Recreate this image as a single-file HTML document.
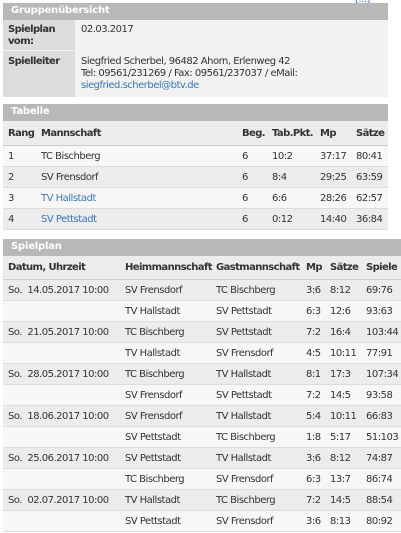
<!DOCTYPE html>
<html><head><meta charset="utf-8"><style>
body{margin:0;width:401px;height:533px;background:#fff;font-family:"DejaVu Sans","Liberation Sans",sans-serif;font-size:10px;color:#333;position:relative;overflow:hidden;letter-spacing:-0.5px}
.hd{position:absolute;background:#b8b8b8;color:#fff;font-weight:bold;height:17px;line-height:16px;padding-left:8px;box-sizing:border-box;letter-spacing:-0.2px}
.row{position:absolute;left:3px;height:21px;border-bottom:1px solid #dcdcdc;box-sizing:border-box}
.row span{position:absolute;top:5px;white-space:nowrap}
.b{font-weight:bold;letter-spacing:-0.6px}
a{color:#3a78b5;text-decoration:none}
.g{background:#ececec}.w{background:#f7f7f7}
</style></head><body>
<div style="position:absolute;left:355px;top:-6px;color:#3a78b5">[...]</div>

<div class="hd" style="left:3px;top:3px;width:385px">Gruppenübersicht</div>
<div style="position:absolute;left:3px;top:20px;width:385px;height:31px;border-bottom:1px solid #ccc;background:#f2f2f2">
 <div style="position:absolute;left:0;top:0;width:72px;height:30px;background:#dcdcdc"></div>
 <span class="b" style="position:absolute;left:5px;top:4px;line-height:12px">Spielplan<br>vom:</span>
 <span style="position:absolute;left:78px;top:4px">02.03.2017</span>
</div>
<div style="position:absolute;left:3px;top:51px;width:385px;height:46px;background:#f2f2f2">
 <div style="position:absolute;left:0;top:0;width:72px;height:46px;background:#dcdcdc"></div>
 <span class="b" style="position:absolute;left:5px;top:5px">Spielleiter</span>
 <span style="position:absolute;left:78px;top:5px;line-height:12px;white-space:nowrap">Siegfried Scherbel, 96482 Ahorn, Erlenweg 42<br>Tel: 09561/231269 / Fax: 09561/237037 / eMail:<br><a>siegfried.scherbel@btv.de</a></span>
</div>

<div class="hd" style="left:3px;top:104px;width:385px">Tabelle</div>
<div class="row" style="top:121px;width:385px;height:25px;background:#ececec;border-bottom:1px solid #ccc">
 <span class="b" style="left:5px;top:7px">Rang</span><span class="b" style="left:38px;top:7px">Mannschaft</span><span class="b" style="left:239px;top:7px">Beg.</span><span class="b" style="left:269px;top:7px">Tab.Pkt.</span><span class="b" style="left:317px;top:7px">Mp</span><span class="b" style="left:353px;top:7px">Sätze</span>
</div>
<div id="tab"></div>

<div class="hd" style="left:3px;top:239px;width:398px">Spielplan</div>
<div class="row" style="top:256px;width:398px;height:24px;background:#ececec;border-bottom:1px solid #ccc">
 <span class="b" style="left:5px;top:6px">Datum, Uhrzeit</span><span class="b" style="left:122px;top:6px">Heimmannschaft</span><span class="b" style="left:213px;top:6px">Gastmannschaft</span><span class="b" style="left:303px;top:6px">Mp</span><span class="b" style="left:327px;top:6px">Sätze</span><span class="b" style="left:363px;top:6px">Spiele</span>
</div>
<div id="sp"></div>

<script>
const tabRows=[["1","TC Bischberg","6","10:2","37:17","80:41",0],["2","SV Frensdorf","6","8:4","29:25","63:59",0],["3","TV Hallstadt","6","6:6","28:26","62:57",1],["4","SV Pettstadt","6","0:12","14:40","36:84",1]];
const tabX=[5,38,239,269,317,353];
const spRows=[
["So.  14.05.2017 10:00","SV Frensdorf","TC Bischberg","3:6","8:12","69:76"],
["","TV Hallstadt","SV Pettstadt","6:3","12:6","93:63"],
["So.  21.05.2017 10:00","TC Bischberg","SV Pettstadt","7:2","16:4","103:44"],
["","TV Hallstadt","SV Frensdorf","4:5","10:11","77:91"],
["So.  28.05.2017 10:00","TC Bischberg","TV Hallstadt","8:1","17:3","107:34"],
["","SV Frensdorf","SV Pettstadt","7:2","14:5","93:58"],
["So.  18.06.2017 10:00","SV Frensdorf","TV Hallstadt","5:4","10:11","66:83"],
["","SV Pettstadt","TC Bischberg","1:8","5:17","51:103"],
["So.  25.06.2017 10:00","SV Pettstadt","TV Hallstadt","3:6","8:12","74:87"],
["","TC Bischberg","SV Frensdorf","6:3","13:7","86:74"],
["So.  02.07.2017 10:00","TV Hallstadt","TC Bischberg","7:2","14:5","88:54"],
["","SV Pettstadt","SV Frensdorf","3:6","8:13","80:92"]];
const spX=[5,122,213,303,327,363];
const tab=document.getElementById('tab');
tabRows.forEach((r,i)=>{
 const d=document.createElement('div');
 d.className='row '+(i%2?'g':'w');
 
 
 d.style.top=(146+i*21)+'px';d.style.width='385px';
 for(let k=0;k<6;k++){const s=document.createElement('span');s.style.left=tabX[k]+'px';
  if(k==1&&r[6]){const a=document.createElement('a');a.textContent=r[k];
   
   
   s.appendChild(a);}else s.textContent=r[k];
  d.appendChild(s);}
 tab.appendChild(d);
});
const sp=document.getElementById('sp');
spRows.forEach((r,i)=>{
 const d=document.createElement('div');
 d.className='row '+(i%2?'w':'g');
 
 
 d.style.top=(280+i*21)+'px';d.style.width='398px';
 for(let k=0;k<6;k++){const s=document.createElement('span');s.style.left=spX[k]+'px';s.style.whiteSpace='pre';s.textContent=r[k];d.appendChild(s);}
 sp.appendChild(d);
});
</script>
</body></html>
